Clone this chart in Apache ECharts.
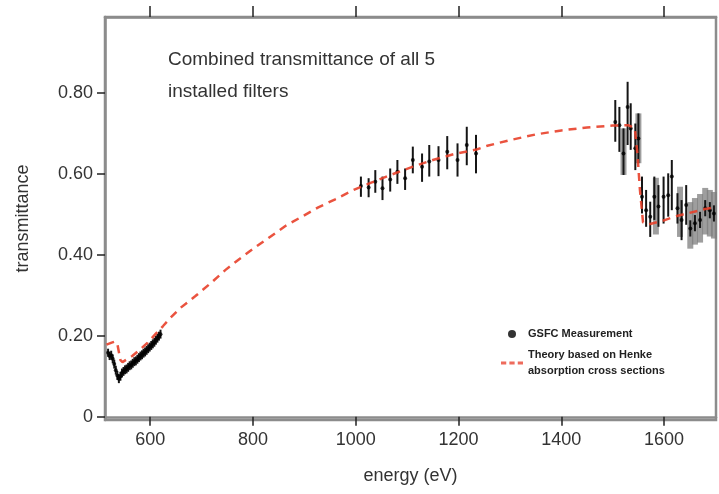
<!DOCTYPE html>
<html>
<head>
<meta charset="utf-8">
<script src="https://cdn.jsdelivr.net/npm/echarts@6/dist/echarts.min.js"></script>
<style>
  html, body { margin: 0; padding: 0; background: #fff; }
  #chart { width: 719px; height: 494px; }
</style>
</head>
<body>
<div id="chart"></div>
<script>
// tick labels
const xTicks = [600, 800, 1000, 1200, 1400, 1600];
const yTicks = [0, 0.2, 0.4, 0.6, 0.8];

// GSFC measurement: energy (eV), transmittance, error bar low / high
const measE = [518, 521, 524, 527, 530, 533, 536, 539, 542, 545, 548, 551, 554, 557, 560, 563, 566, 569, 572, 575,
  578, 581, 584, 587, 590, 593, 596, 599, 602, 605, 608, 611, 614, 617, 620,
  1010, 1025, 1038, 1052, 1067, 1081, 1096, 1111, 1129, 1143, 1161, 1178, 1198, 1216, 1234,
  1505, 1513, 1521, 1529, 1535, 1544, 1550, 1557, 1565, 1573, 1581, 1589, 1599, 1608, 1615, 1626, 1634, 1643,
  1651, 1660, 1670, 1680, 1689, 1697];
const measT = [0.158, 0.150, 0.152, 0.143, 0.130, 0.115, 0.102, 0.094, 0.100, 0.108, 0.112, 0.116, 0.118, 0.122, 0.126, 0.128, 0.132, 0.136, 0.138, 0.142,
  0.146, 0.150, 0.153, 0.157, 0.160, 0.164, 0.168, 0.172, 0.176, 0.180, 0.184, 0.189, 0.194, 0.199, 0.204,
  0.570, 0.566, 0.580, 0.564, 0.586, 0.605, 0.589, 0.634, 0.617, 0.630, 0.634, 0.654, 0.634, 0.671, 0.650,
  0.728, 0.720, 0.650, 0.765, 0.712, 0.663, 0.687, 0.543, 0.510, 0.494, 0.543, 0.519, 0.543, 0.547, 0.593, 0.515, 0.486, 0.523,
  0.465, 0.478, 0.486, 0.515, 0.510, 0.502];
const measLo = [0.148, 0.140, 0.141, 0.132, 0.119, 0.104, 0.091, 0.083, 0.089, 0.097, 0.101, 0.105, 0.107, 0.111, 0.115, 0.117, 0.121, 0.125, 0.127, 0.131,
  0.135, 0.139, 0.142, 0.146, 0.149, 0.153, 0.157, 0.161, 0.165, 0.169, 0.173, 0.178, 0.183, 0.188, 0.193,
  0.543, 0.542, 0.553, 0.535, 0.556, 0.575, 0.560, 0.601, 0.580, 0.593, 0.594, 0.611, 0.593, 0.621, 0.601,
  0.679, 0.654, 0.597, 0.671, 0.659, 0.609, 0.626, 0.502, 0.469, 0.444, 0.486, 0.469, 0.477, 0.494, 0.510, 0.477, 0.436, 0.474,
  0.445, 0.458, 0.466, 0.495, 0.490, 0.482];
const measHi = [0.168, 0.160, 0.163, 0.154, 0.141, 0.126, 0.113, 0.105, 0.111, 0.119, 0.123, 0.127, 0.129, 0.133, 0.137, 0.139, 0.143, 0.147, 0.149, 0.153,
  0.157, 0.161, 0.164, 0.168, 0.171, 0.175, 0.179, 0.183, 0.187, 0.191, 0.195, 0.200, 0.205, 0.210, 0.215,
  0.593, 0.589, 0.609, 0.593, 0.613, 0.634, 0.613, 0.667, 0.650, 0.671, 0.668, 0.693, 0.675, 0.716, 0.696,
  0.782, 0.765, 0.712, 0.827, 0.774, 0.724, 0.749, 0.593, 0.560, 0.531, 0.593, 0.572, 0.593, 0.601, 0.634, 0.552, 0.535, 0.572,
  0.485, 0.498, 0.506, 0.535, 0.530, 0.522];

// wide grey (systematic) error bars
const sysE = [1521, 1550, 1584, 1631, 1651, 1660, 1670, 1680, 1689, 1697];
const sysLo = [0.597, 0.626, 0.450, 0.444, 0.415, 0.425, 0.430, 0.450, 0.445, 0.440];
const sysHi = [0.712, 0.749, 0.590, 0.568, 0.530, 0.540, 0.550, 0.565, 0.560, 0.555];

// Henke theory curve
const theoryE = [515, 525, 532, 536, 539, 542, 546, 555, 565, 580, 595, 610, 625, 640, 658, 688, 717, 746, 775, 804,
  833, 863, 895, 927, 960, 996, 1030, 1070, 1110, 1150, 1190, 1235, 1256, 1300, 1350, 1400, 1450, 1500, 1530,
  1543, 1548, 1553, 1559, 1570, 1600, 1617, 1645, 1680, 1701];
const theoryT = [0.178, 0.183, 0.186, 0.180, 0.160, 0.140, 0.135, 0.142, 0.150, 0.166, 0.183, 0.204, 0.224, 0.245, 0.268, 0.298, 0.329, 0.362, 0.391, 0.418,
  0.444, 0.471, 0.494, 0.517, 0.537, 0.560, 0.578, 0.598, 0.617, 0.634, 0.648, 0.660, 0.669, 0.683, 0.697, 0.707, 0.714, 0.719, 0.720,
  0.712, 0.650, 0.560, 0.480, 0.475, 0.485, 0.493, 0.502, 0.513, 0.518];

const font = 'Liberation Sans, Arial, sans-serif';
const theoryName = 'Theory based on Henke\nabsorption cross sections';

function barRenderer(color, width) {
  return function (params, api) {
    const p1 = api.coord([api.value(0), api.value(1)]);
    const p2 = api.coord([api.value(0), api.value(2)]);
    return {
      type: 'line',
      shape: { x1: p1[0], y1: p1[1], x2: p2[0], y2: p2[1] },
      style: { stroke: color, lineWidth: width }
    };
  };
}

const axisLine = { lineStyle: { color: '#8c8c8c', width: 2.5 } };
const tickStyle = { color: '#222', width: 1.5 };

const chart = echarts.init(document.getElementById('chart'));
chart.setOption({
  animation: false,
  title: {
    text: 'Combined transmittance of all 5\ninstalled filters',
    left: 163,
    top: 39,
    textStyle: { fontFamily: font, fontSize: 19, fontWeight: 'normal', color: '#333', lineHeight: 32 }
  },
  legend: {
    orient: 'vertical',
    left: 496,
    top: 321,
    itemGap: 5,
    itemWidth: 22,
    itemHeight: 8,
    data: [
      { name: 'GSFC Measurement', icon: 'circle' },
      {
        name: theoryName,
        icon: 'path://M0,0h5v3h-5z M8,0h5v3h-5z M16,0h5v3h-5z',
        itemStyle: { color: '#ee6b5c' }
      }
    ],
    textStyle: { fontFamily: font, fontSize: 11, fontWeight: 'bold', color: '#222', lineHeight: 16 }
  },
  grid: {
    left: 105, right: 3, top: 17, bottom: 74,
    show: true, borderColor: '#8c8c8c', borderWidth: 2.5
  },
  xAxis: [
    {
      type: 'value', min: 512, max: 1701,
      name: 'energy (eV)', nameLocation: 'middle', nameGap: 47,
      nameTextStyle: { fontFamily: font, fontSize: 18, color: '#333' },
      axisLine: axisLine,
      axisTick: { customValues: xTicks, length: 9, lineStyle: tickStyle },
      axisLabel: {
        customValues: xTicks, margin: 11, fontFamily: font, fontSize: 18, color: '#333',
        formatter: v => String(v)
      },
      splitLine: { show: false }
    },
    {
      type: 'value', position: 'top', min: 512, max: 1701,
      axisLine: axisLine,
      axisTick: { customValues: xTicks, length: 11, lineStyle: tickStyle },
      axisLabel: { show: false },
      splitLine: { show: false }
    }
  ],
  yAxis: {
    type: 'value', min: -0.008, max: 0.987,
    name: 'transmittance', nameLocation: 'middle', nameGap: 73,
    nameTextStyle: { fontFamily: font, fontSize: 18, color: '#333' },
    axisLine: axisLine,
    axisTick: { customValues: yTicks, length: 8, lineStyle: tickStyle },
    axisLabel: {
      customValues: yTicks, margin: 12, fontFamily: font, fontSize: 18, color: '#333',
      formatter: v => (v === 0 ? '0' : v.toFixed(2))
    },
    splitLine: { show: false }
  },
  series: [
    {
      name: 'sys', type: 'custom', xAxisIndex: 0,
      renderItem: barRenderer('rgba(125,125,125,0.75)', 6),
      data: sysE.map((e, i) => [e, sysLo[i], sysHi[i]]),
      z: 1
    },
    {
      name: 'err', type: 'custom', xAxisIndex: 0,
      renderItem: barRenderer('#151515', 2),
      data: measE.map((e, i) => [e, measLo[i], measHi[i]]),
      z: 2
    },
    {
      name: 'GSFC Measurement', type: 'scatter', xAxisIndex: 0,
      symbolSize: 4,
      itemStyle: { color: '#000' },
      data: measE.map((e, i) => [e, measT[i]]),
      z: 3
    },
    {
      name: theoryName, type: 'line', xAxisIndex: 0,
      showSymbol: false, symbol: 'none',
      lineStyle: { color: '#e8402a', width: 2.5, type: [8, 6], opacity: 0.9 },
      itemStyle: { color: '#e8402a' },
      data: theoryE.map((e, i) => [e, theoryT[i]]),
      z: 4
    }
  ]
});
</script>
</body>
</html>
